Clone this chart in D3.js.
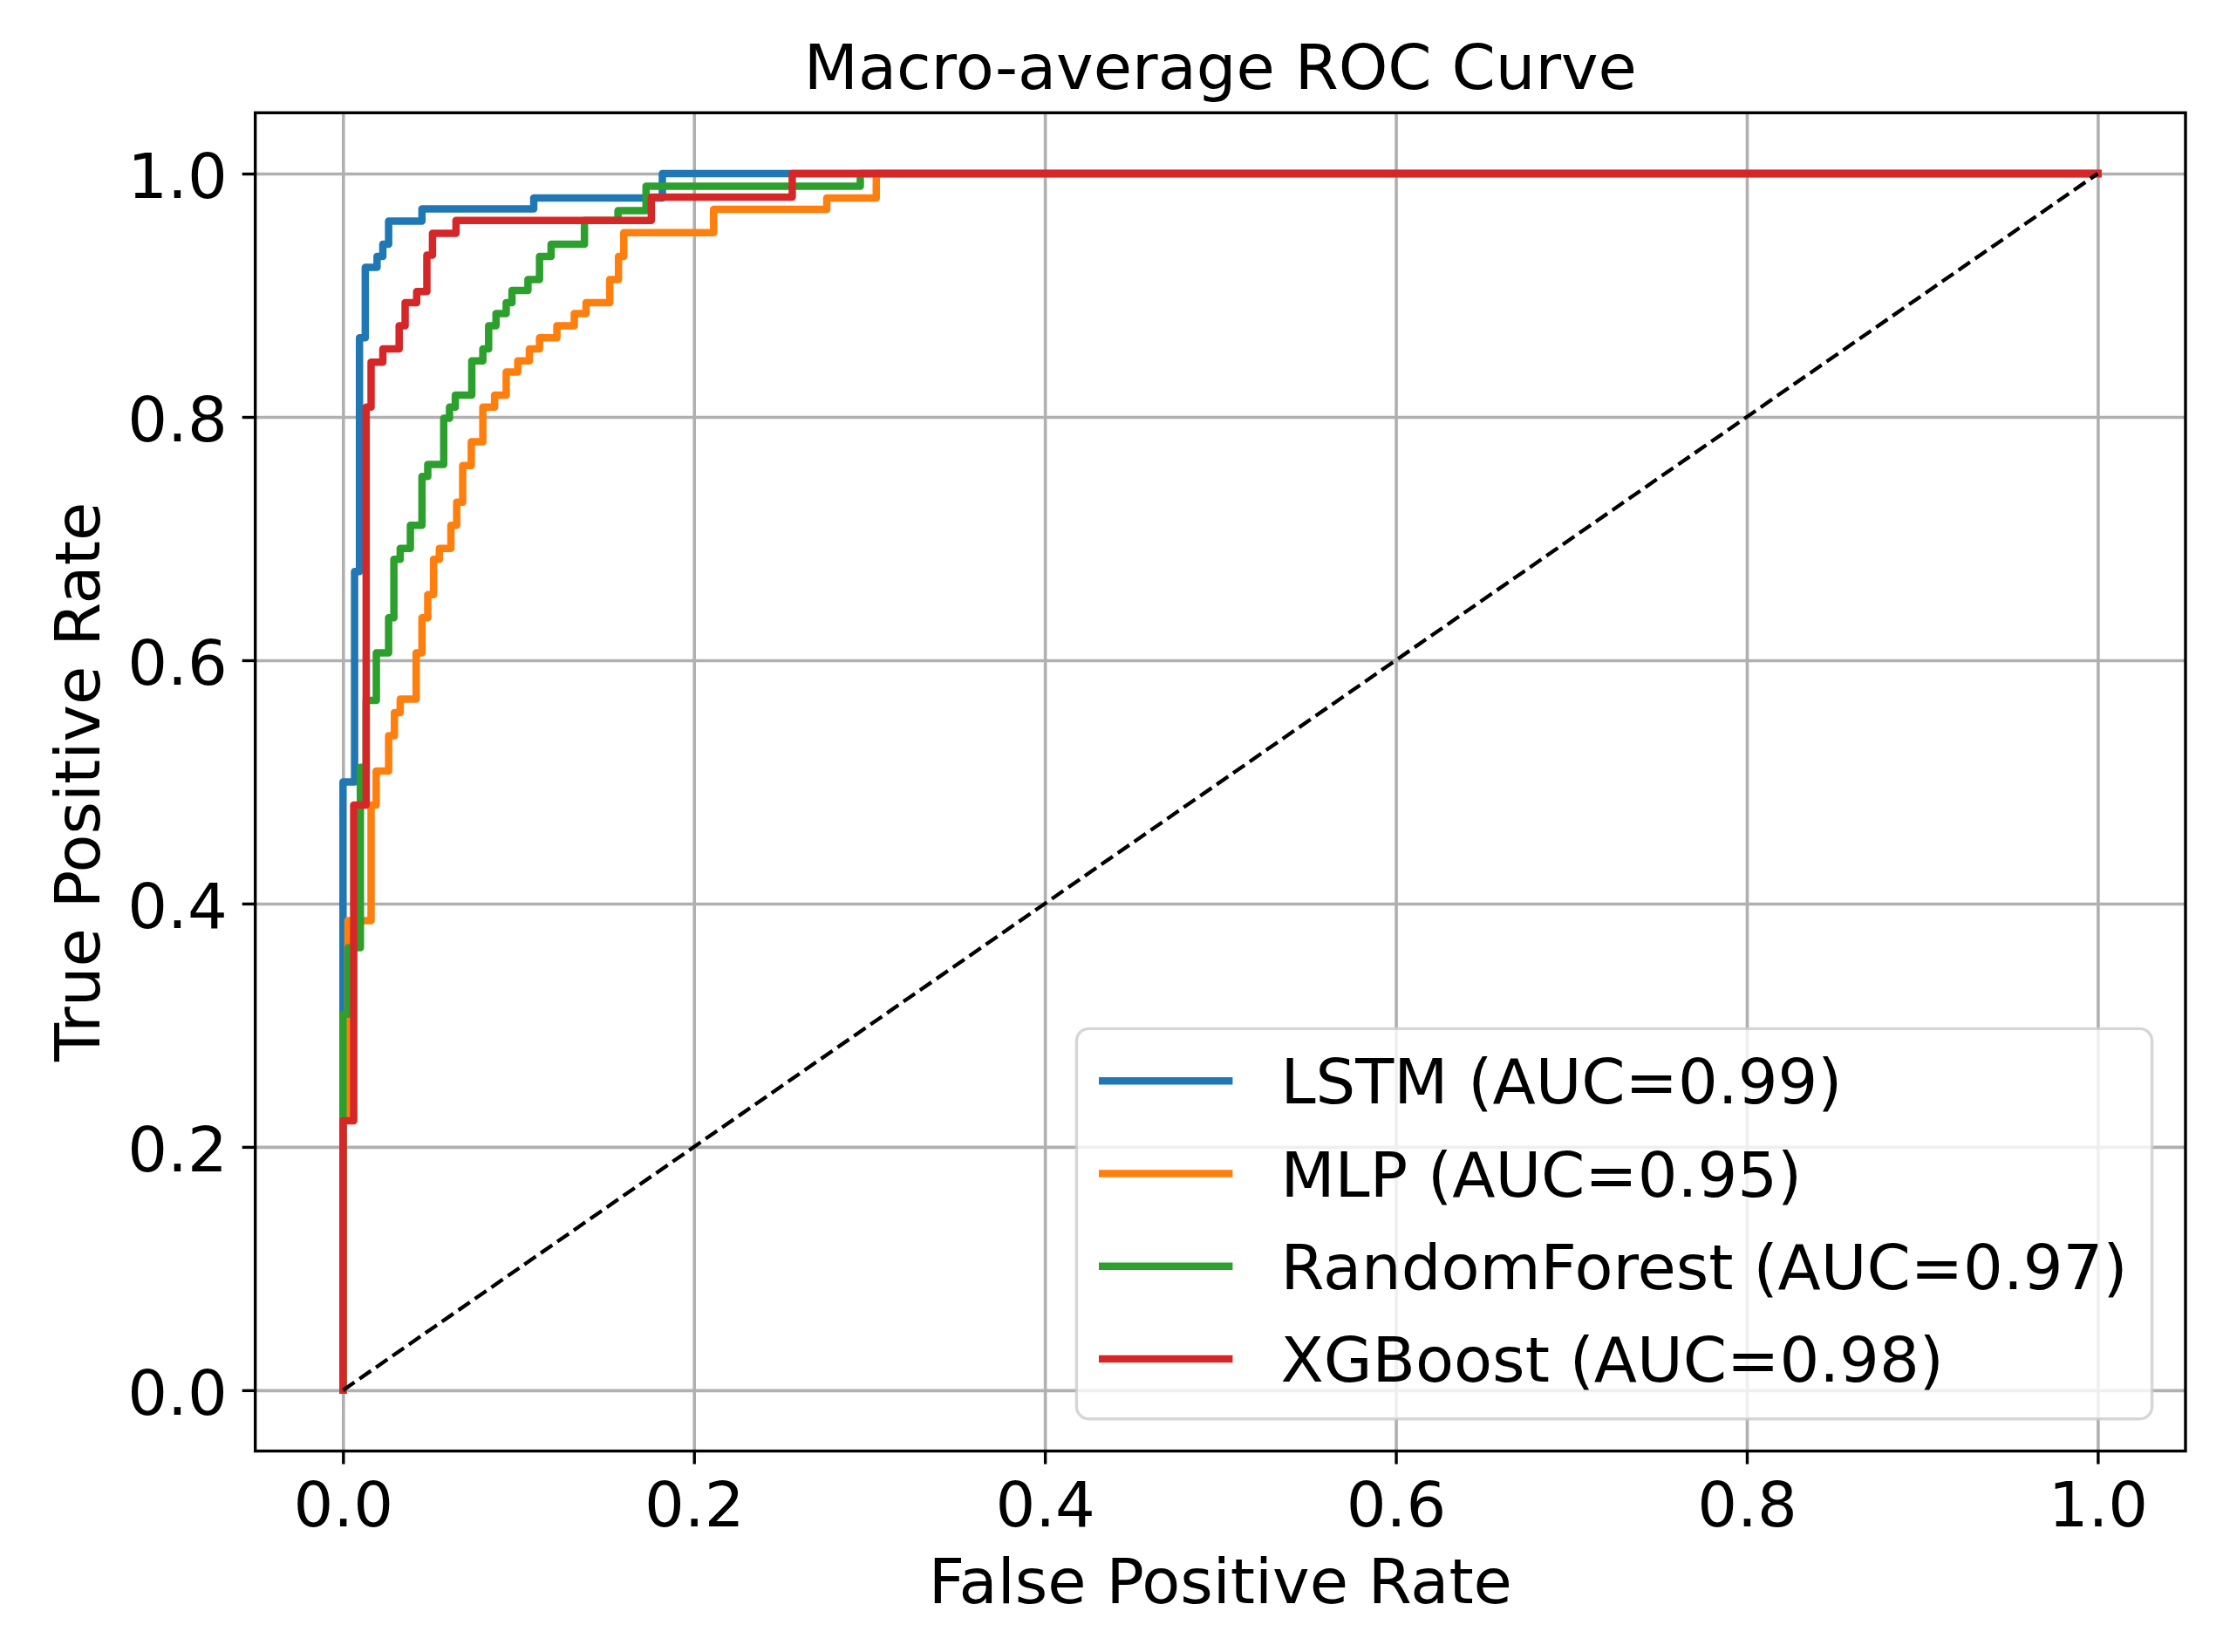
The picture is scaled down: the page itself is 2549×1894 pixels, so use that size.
<!DOCTYPE html>
<html>
<head>
<meta charset="utf-8">
<script src="https://cdn.jsdelivr.net/npm/d3@7"></script>
<style>
  body { margin: 0; background: #ffffff; }
  svg { display: block; }
  text { font-family: "DejaVu Sans", sans-serif; fill: #000000; }
</style>
</head>
<body>
<div id="chart"></div>
<script>
// data (points where each step rises)
const LSTM_FPR = [0, 0, 0.0066, 0.0094, 0.0127, 0.0194, 0.0227, 0.026, 0.045, 0.1087, 0.182, 1.0];
const LSTM_TPR = [0, 0.5, 0.673, 0.865, 0.923, 0.932, 0.942, 0.961, 0.971, 0.980, 1.0, 1.0];

const MLP_FPR = [0, 0, 0.0028, 0.016, 0.0189, 0.026, 0.0293, 0.0326, 0.0417, 0.045, 0.0483, 0.0516,
                 0.0549, 0.0615, 0.0648, 0.0682, 0.0731, 0.0797, 0.0864, 0.093, 0.0996, 0.1062,
                 0.112, 0.1219, 0.1318, 0.1385, 0.152, 0.157, 0.16, 0.2112, 0.2757, 0.3039, 1.0];
const MLP_TPR = [0, 0.222, 0.386, 0.481, 0.509, 0.538, 0.557, 0.568, 0.606, 0.635, 0.654, 0.683,
                 0.692, 0.711, 0.730, 0.760, 0.7795, 0.808, 0.818, 0.837, 0.846, 0.856,
                 0.865, 0.875, 0.885, 0.894, 0.913, 0.932, 0.9515, 0.9706, 0.980, 1.0, 1.0];

const RF_FPR = [0, 0, 0.003, 0.0099, 0.0132, 0.019, 0.026, 0.029, 0.0326, 0.0384, 0.045, 0.0483,
                0.0574, 0.0607, 0.064, 0.0734, 0.0797, 0.083, 0.0872, 0.093, 0.0963, 0.1054,
                0.112, 0.1186, 0.1376, 0.1567, 0.1727, 0.2948, 1.0];
const RF_TPR = [0, 0.309, 0.3637, 0.512, 0.567, 0.606, 0.635, 0.683, 0.692, 0.711, 0.751, 0.761,
                0.799, 0.808, 0.818, 0.846, 0.856, 0.875, 0.885, 0.894, 0.904, 0.913,
                0.932, 0.942, 0.9615, 0.9695, 0.9897, 1.0, 1.0];

const XGB_FPR = [0, 0, 0.0061, 0.0132, 0.016, 0.0227, 0.032, 0.0354, 0.042, 0.0478, 0.051, 0.0644,
                 0.1757, 0.256, 1.0];
const XGB_TPR = [0, 0.2215, 0.481, 0.808, 0.845, 0.856, 0.875, 0.894, 0.903, 0.933, 0.951, 0.9615,
                 0.9807, 1.0, 1.0];

const MODEL_NAMES = ["LSTM", "MLP", "RandomForest", "XGBoost"];
const MODEL_AUC = [0.99, 0.95, 0.97, 0.98];
const TICKS = [0.0, 0.2, 0.4, 0.6, 0.8, 1.0];

const COLORS = ["#1f77b4", "#ff7f0e", "#2ca02c", "#d62728"];

// Setting up frame
const F_WIDTH = 2549;
const F_HEIGHT = 1894;
const PLOT = {left: 292.7, right: 2506, top: 129.3, bottom: 1663.6};
const FONT = 72;
const LINE_W = 8.5;

const FRAME = d3.select("#chart")
                .append("svg")
                  .attr("width", F_WIDTH)
                  .attr("height", F_HEIGHT);

const X_SCALE = d3.scaleLinear()
                  .domain([-0.05, 1.05])
                  .range([PLOT.left, PLOT.right]);

const Y_SCALE = d3.scaleLinear()
                  .domain([-0.05, 1.05])
                  .range([PLOT.bottom, PLOT.top]);

// grid lines
FRAME.append("g")
      .attr("transform", "translate(0," + PLOT.bottom + ")")
      .call(d3.axisBottom(X_SCALE).tickValues(TICKS).tickSize(-(PLOT.bottom - PLOT.top)).tickFormat(""))
      .call(g => g.select(".domain").remove())
      .call(g => g.selectAll("line").attr("stroke", "#b0b0b0").attr("stroke-width", 3.6));

FRAME.append("g")
      .attr("transform", "translate(" + PLOT.left + ",0)")
      .call(d3.axisLeft(Y_SCALE).tickValues(TICKS).tickSize(-(PLOT.right - PLOT.left)).tickFormat(""))
      .call(g => g.select(".domain").remove())
      .call(g => g.selectAll("line").attr("stroke", "#b0b0b0").attr("stroke-width", 3.6));

// curves
const models = MODEL_NAMES.map((name, i) => ({
  name: name,
  auc: MODEL_AUC[i],
  color: COLORS[i],
  points: d3.zip([LSTM_FPR, MLP_FPR, RF_FPR, XGB_FPR][i], [LSTM_TPR, MLP_TPR, RF_TPR, XGB_TPR][i])
}));

const line = d3.line()
               .x(d => X_SCALE(d[0]))
               .y(d => Y_SCALE(d[1]))
               .curve(d3.curveStepAfter);

FRAME.append("g")
      .selectAll("path")
      .data(models)
      .enter()
      .append("path")
        .attr("d", d => line(d.points))
        .attr("fill", "none")
        .attr("stroke", d => d.color)
        .attr("stroke-width", LINE_W)
        .attr("stroke-linejoin", "round")
        .attr("stroke-linecap", "square");

// chance line
FRAME.append("path")
      .attr("d", d3.line().x(d => X_SCALE(d)).y(d => Y_SCALE(d))([0, 1]))
      .attr("fill", "none")
      .attr("stroke", "#000000")
      .attr("stroke-width", 4.3)
      .attr("stroke-dasharray", "16,7");

// frame
FRAME.append("rect")
      .attr("x", PLOT.left)
      .attr("y", PLOT.top)
      .attr("width", PLOT.right - PLOT.left)
      .attr("height", PLOT.bottom - PLOT.top)
      .attr("fill", "none")
      .attr("stroke", "#000000")
      .attr("stroke-width", 3.4);

// x axis
FRAME.append("g")
      .attr("transform", "translate(0," + PLOT.bottom + ")")
      .call(d3.axisBottom(X_SCALE).tickValues(TICKS).tickSize(15).tickPadding(20).tickFormat(d3.format(".1f")))
      .call(g => g.select(".domain").remove())
      .call(g => g.selectAll("line").attr("stroke", "#000000").attr("stroke-width", 3.4))
      .call(g => g.selectAll("text").attr("font-size", FONT).attr("font-family", "DejaVu Sans").attr("fill", "#000000"));

// y axis
FRAME.append("g")
      .attr("transform", "translate(" + PLOT.left + ",0)")
      .call(d3.axisLeft(Y_SCALE).tickValues(TICKS).tickSize(15).tickPadding(17).tickFormat(d3.format(".1f")))
      .call(g => g.select(".domain").remove())
      .call(g => g.selectAll("line").attr("stroke", "#000000").attr("stroke-width", 3.4))
      .call(g => g.selectAll("text").attr("font-size", FONT).attr("font-family", "DejaVu Sans").attr("fill", "#000000").attr("dy", "0.38em"));

// title and labels
FRAME.append("text")
      .attr("x", (PLOT.left + PLOT.right) / 2)
      .attr("y", 101.7)
      .attr("text-anchor", "middle")
      .attr("font-size", FONT)
      .text("Macro-average ROC Curve");

FRAME.append("text")
      .attr("x", (PLOT.left + PLOT.right) / 2)
      .attr("y", 1838)
      .attr("text-anchor", "middle")
      .attr("font-size", FONT)
      .text("False Positive Rate");

FRAME.append("text")
      .attr("transform", "translate(113.5," + ((PLOT.top + PLOT.bottom) / 2) + ") rotate(-90)")
      .attr("text-anchor", "middle")
      .attr("font-size", FONT)
      .text("True Positive Rate");

// legend
const LEGEND = FRAME.append("g");

LEGEND.append("rect")
      .attr("x", 1234.4)
      .attr("y", 1179.4)
      .attr("width", 1233.2)
      .attr("height", 447.3)
      .attr("rx", 14)
      .attr("fill", "#ffffff")
      .attr("fill-opacity", 0.8)
      .attr("stroke", "#cccccc")
      .attr("stroke-opacity", 0.8)
      .attr("stroke-width", 3.4);

const rows = LEGEND.selectAll(".row")
                   .data(models)
                   .enter()
                   .append("g")
                     .attr("class", "row")
                     .attr("transform", (d, i) => "translate(0," + (1239.2 + i * 106.3) + ")");

rows.append("line")
      .attr("x1", 1260)
      .attr("x2", 1413.4)
      .attr("stroke", d => d.color)
      .attr("stroke-width", LINE_W)
      .attr("stroke-linecap", "butt");

rows.append("text")
      .attr("x", 1468.5)
      .attr("y", 26)
      .attr("font-size", FONT)
      .text(d => d.name + " (AUC=" + d.auc.toFixed(2) + ")");
</script>
</body>
</html>
